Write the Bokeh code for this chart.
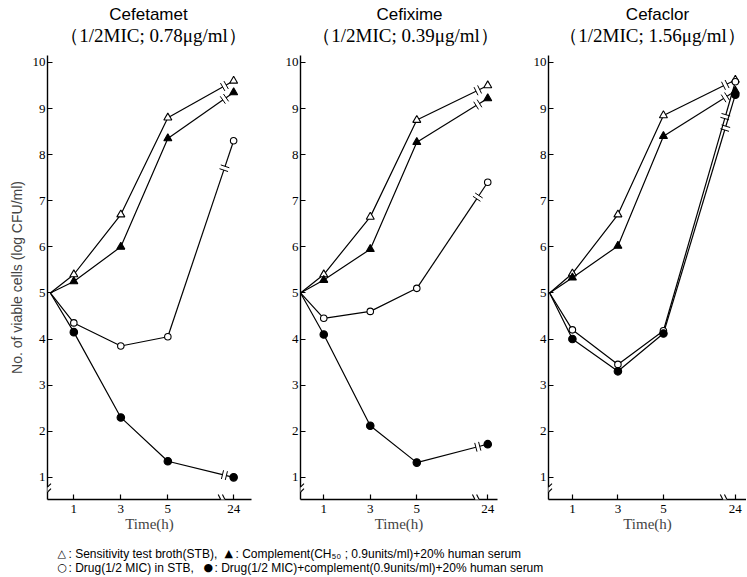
import math
from bokeh.plotting import figure
from bokeh.models import Range1d, FixedTicker, Arrow
from bokeh.layouts import column, row
from bokeh.embed import file_html
from bokeh.resources import INLINE
from bokeh.core.properties import value

# ---------------- data ----------------
hours = [0, 1, 3, 5, 24]
x_tick_hours = [1, 3, 5, 24]
y_ticks = [1, 2, 3, 4, 5, 6, 7, 8, 9, 10]

drug_names = ["Cefetamet", "Cefixime", "Cefaclor"]
mic_labels = ["（1/2MIC; 0.78μg/ml）", "（1/2MIC; 0.39μg/ml）", "（1/2MIC; 1.56μg/ml）"]

cefetamet_stb = [5.0, 5.4, 6.7, 8.8, 9.6]
cefetamet_comp = [5.0, 5.25, 6.0, 8.35, 9.35]
cefetamet_drug = [5.0, 4.35, 3.85, 4.05, 8.3]
cefetamet_drug_comp = [5.0, 4.15, 2.3, 1.35, 1.0]

cefixime_stb = [5.0, 5.4, 6.65, 8.75, 9.5]
cefixime_comp = [5.0, 5.28, 5.95, 8.27, 9.22]
cefixime_drug = [5.0, 4.45, 4.6, 5.1, 7.4]
cefixime_drug_comp = [5.0, 4.1, 2.12, 1.32, 1.72]

cefaclor_stb = [5.0, 5.42, 6.7, 8.85, 9.62]
cefaclor_comp = [5.0, 5.33, 6.02, 8.4, 9.38]
cefaclor_drug = [5.0, 4.2, 3.45, 4.18, 9.58]
cefaclor_drug_comp = [5.0, 4.0, 3.3, 4.12, 9.3]

panel_series = [
    [cefetamet_stb, cefetamet_comp, cefetamet_drug, cefetamet_drug_comp],
    [cefixime_stb, cefixime_comp, cefixime_drug, cefixime_drug_comp],
    [cefaclor_stb, cefaclor_comp, cefaclor_drug, cefaclor_drug_comp],
]

legend_symbols = [["△", "▲"], ["○", "●"]]
legend_texts = [
    [": Sensitivity test broth(STB),", ": Complement(CH₅₀ ; 0.9units/ml)+20% human serum"],
    [": Drug(1/2 MIC) in STB,", ": Drug(1/2 MIC)+complement(0.9units/ml)+20% human serum"],
]

# ---------------- layout / style ----------------
TOTAL_W = 746
TH = 55            # title strip height
FH, BB = 444, 43   # frame height, bottom border of the panels
H = FH + BB
Y0, Y1 = 0.52, 10.15
panels = [
    dict(w=258, bl=47, br=7, x0=-0.12, x1=8.56, pos24=7.8, tcx=148, scx=153),
    dict(w=247, bl=42, br=8, x0=0.0, x1=8.47, pos24=8.05, tcx=409, scx=405),
    dict(w=241, bl=43, br=0, x0=-0.05, x1=8.65, pos24=8.16, tcx=657, scx=652),
]
styles = [
    dict(marker="triangle", fill="white", size=8),
    dict(marker="triangle", fill="black", size=8),
    dict(marker="circle", fill="white", size=6.5),
    dict(marker="circle", fill="black", size=7.5),
]
SERIF = "Liberation Serif"
SANS = "Liberation Sans"
LW = 1.2


def blank_strip(height):
    f = figure(width=TOTAL_W, height=height, output_backend="svg", toolbar_location=None,
               x_range=Range1d(0, TOTAL_W), y_range=Range1d(height, 0), min_border=0)
    f.axis.visible = False
    f.grid.visible = False
    f.outline_line_color = None
    return f


# title strip
top = blank_strip(TH)
top.text(x=[c["tcx"] for c in panels], y=[14] * 3, text=drug_names, text_align="center",
         text_baseline="middle", text_font=value(SANS), text_font_size="17px", text_color="black")
top.text(x=[c["scx"] for c in panels], y=[35] * 3, text=mic_labels, text_align="center",
         text_baseline="middle", text_font=value(SERIF), text_font_size="19px", text_color="black")

figs = []
for i, cfg in enumerate(panels):
    fw = cfg["w"] - cfg["bl"] - cfg["br"]
    kx = fw / (cfg["x1"] - cfg["x0"])
    ky = FH / (Y1 - Y0)
    p = figure(width=cfg["w"], height=H, output_backend="svg", toolbar_location=None,
               x_range=Range1d(cfg["x0"], cfg["x1"]), y_range=Range1d(Y0, Y1),
               min_border_left=cfg["bl"], min_border_right=cfg["br"],
               min_border_top=0, min_border_bottom=BB)
    p.outline_line_color = None
    p.grid.visible = False
    p.background_fill_color = "white"
    p.border_fill_color = "white"

    pos = [h if h <= 5 else cfg["pos24"] for h in hours]
    tick_pos = [h if h <= 5 else cfg["pos24"] for h in x_tick_hours]

    for ax in (p.xaxis[0], p.yaxis[0]):
        ax.axis_line_width = 1.4
        ax.major_tick_line_width = 1.2
        ax.major_tick_in = 5
        ax.major_tick_out = 0
        ax.minor_tick_line_color = None
        ax.major_label_text_font = SERIF
        ax.major_label_text_font_size = "13px"
        ax.major_label_text_color = "black"
        ax.axis_line_color = "black"
        ax.major_tick_line_color = "black"
    p.xaxis.ticker = FixedTicker(ticks=tick_pos)
    p.xaxis.major_label_overrides = {tp: str(h) for tp, h in zip(tick_pos, x_tick_hours)}
    p.xaxis.major_label_standoff = 5
    p.xaxis.axis_label = "Time(h)"
    p.xaxis.axis_label_text_font = SERIF
    p.xaxis.axis_label_text_font_size = "15px"
    p.xaxis.axis_label_text_font_style = "normal"
    p.xaxis.axis_label_standoff = 0
    p.yaxis.ticker = FixedTicker(ticks=y_ticks)
    p.yaxis.major_label_standoff = 2
    if i == 0:
        p.yaxis.axis_label = "No. of viable cells (log CFU/ml)"
        p.yaxis.axis_label_text_font = SANS
        p.yaxis.axis_label_text_font_size = "14px"
        p.yaxis.axis_label_text_font_style = "normal"
        p.yaxis.axis_label_standoff = 5

    # series
    for ys, st in zip(panel_series[i], styles):
        p.line(pos[:4], ys[:4], line_color="black", line_width=LW)
        x5, y5, x24, y24 = pos[3], ys[3], pos[4], ys[4]
        dxp, dyp = (x24 - x5) * kx, (y24 - y5) * ky
        L = math.hypot(dxp, dyp)
        tc = 0.86
        tg = 4.0 / L
        ta, tb = tc - tg / 2, tc + tg / 2
        pa = (x5 + ta * (x24 - x5), y5 + ta * (y24 - y5))
        pb = (x5 + tb * (x24 - x5), y5 + tb * (y24 - y5))
        p.line([x5, pa[0]], [y5, pa[1]], line_color="black", line_width=LW)
        p.line([pb[0], x24], [pb[1], y24], line_color="black", line_width=LW)
        nx, ny = -dyp / L, dxp / L
        half = 4.5
        sx0, sy0, sx1, sy1 = [], [], [], []
        for cx, cy in (pa, pb):
            sx0.append(cx - nx * half / kx); sy0.append(cy - ny * half / ky)
            sx1.append(cx + nx * half / kx); sy1.append(cy + ny * half / ky)
        p.segment(sx0, sy0, sx1, sy1, line_color="black", line_width=1.0)
    for ys, st in zip(panel_series[i], styles):
        p.scatter(pos[1:], ys[1:], marker=st["marker"], size=st["size"],
                  fill_color=st["fill"], line_color="black", line_width=1.1)

    # x axis break
    bxs = [cfg["pos24"] - 0.55, cfg["pos24"] - 0.37]
    p.add_layout(Arrow(end=None, x_start=bxs[0], y_start=Y0, x_end=bxs[1], y_end=Y0,
                       line_color="white", line_width=3))
    for bx in bxs:
        p.add_layout(Arrow(end=None, x_start=bx - 2.5 / kx, y_start=Y0 + 5 / ky,
                           x_end=bx + 2.5 / kx, y_end=Y0 - 5 / ky,
                           line_color="black", line_width=1.1))
    # y axis break
    bys = [0.79, 0.68]
    xa = cfg["x0"]
    p.add_layout(Arrow(end=None, x_start=xa, y_start=bys[0], x_end=xa, y_end=bys[1],
                       line_color="white", line_width=3))
    for by in bys:
        p.add_layout(Arrow(end=None, x_start=xa - 3.5 / kx, y_start=by - 3.5 / ky,
                           x_end=xa + 3.5 / kx, y_end=by + 3.5 / ky,
                           line_color="black", line_width=1.1))
    figs.append(p)

# legend strip
LH = 576 - TH - H
leg = blank_strip(LH)
sym_x = [[57, 224], [57, 203]]
line_y = [11, 25]
for r in range(2):
    leg.text(x=sym_x[r], y=[line_y[r]] * 2, text=legend_symbols[r], text_baseline="middle",
             text_font=value("DejaVu Sans"), text_font_size="11px", text_color="black")
    leg.text(x=[sx + 11 for sx in sym_x[r]], y=[line_y[r]] * 2, text=legend_texts[r],
             text_baseline="middle", text_font=value(SANS), text_font_size="12px",
             text_color="black")

layout = column(top, row(*figs), leg)
open("out.html", "w").write(file_html(layout, INLINE))
